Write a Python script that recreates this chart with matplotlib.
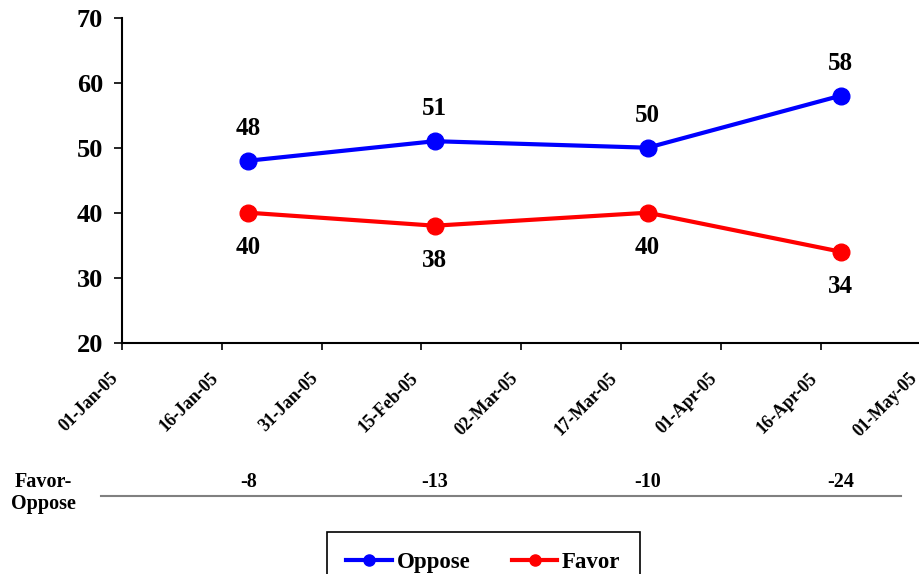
import pandas as pd
import matplotlib
matplotlib.use("Agg")
import matplotlib.pyplot as plt
import matplotlib.transforms as mtransforms
from matplotlib.lines import Line2D

# poll results
survey_dates = ["2005-01-20", "2005-02-17", "2005-03-21", "2005-04-19"]
oppose = [48, 51, 50, 58]
favor = [40, 38, 40, 34]
y_ticks = [20, 30, 40, 50, 60, 70]

plt.rcParams["font.family"] = "Liberation Serif"
plt.rcParams["font.weight"] = "bold"

W, H = 919, 574
dates = pd.to_datetime(survey_dates)

fig = plt.figure(figsize=(W / 100, H / 100), dpi=100)
ax = fig.add_axes([122 / W, 1 - 342.7 / H, 798.5 / W, 325 / H])

ax.plot(dates, oppose, color="#0000FF", lw=3, marker="o", ms=12, clip_on=False)
ax.plot(dates, favor, color="#FF0000", lw=3, marker="o", ms=12, clip_on=False)

for d, v in zip(dates, oppose):
    ax.annotate(str(v), (d, v), xytext=(0, 23.5), textcoords="offset points",
                ha="center", va="center", fontsize=18)
for d, v in zip(dates, favor):
    ax.annotate(str(v), (d, v), xytext=(0, -25), textcoords="offset points",
                ha="center", va="center", fontsize=18)

ax.set_ylim(20, 70)
ax.set_yticks(y_ticks)
ax.set_xlim(pd.Timestamp("2005-01-01"), pd.Timestamp("2005-05-01"))
ticks = pd.date_range("2005-01-01", "2005-05-01", freq="15D")
ax.set_xticks(ticks)
# anchored at the lower right corner so each label ends just left of its tick
ax.set_xticklabels([t.strftime("%d-%b-%y") for t in ticks], rotation=45,
                   ha="right", va="bottom", rotation_mode="anchor", fontsize=13)

ax.spines["top"].set_visible(False)
ax.spines["right"].set_visible(False)
ax.spines["left"].set_linewidth(1.5)
ax.spines["bottom"].set_linewidth(1.5)
ax.tick_params(axis="y", direction="out", length=5.5, width=1.2, pad=8, labelsize=19)
ax.tick_params(axis="x", direction="out", length=5, width=1.2, pad=23)

# Favor minus Oppose row under the chart
trans = mtransforms.blended_transform_factory(ax.transData, fig.transFigure)
for d, o, f in zip(dates, oppose, favor):
    ax.text(d, 1 - 481.7 / H, f"{f - o}", transform=trans,
            ha="center", va="center", fontsize=14.5)
fig.text(43 / W, 1 - 493 / H, "Favor-\nOppose", ha="center", va="center",
         fontsize=14.5, linespacing=1.15)
fig.add_artist(Line2D([101 / W, 901 / W], [1 - 495.5 / H] * 2,
                      color="#808080", lw=1.5))

handles = [
    Line2D([], [], color="#0000FF", lw=3, marker="o", ms=8),
    Line2D([], [], color="#FF0000", lw=3, marker="o", ms=8),
]
leg = fig.legend(handles, ["Oppose", "Favor"], loc="upper left",
                 bbox_to_anchor=(326.7 / W, 1 - 532.3 / H), ncol=2,
                 fontsize=16.5, fancybox=False, edgecolor="black", framealpha=1,
                 handlelength=2.0, handletextpad=0.2, columnspacing=1.8,
                 borderpad=0.85, borderaxespad=0)
leg.get_frame().set_linewidth(1.2)

fig.savefig("out.png", dpi=100)
